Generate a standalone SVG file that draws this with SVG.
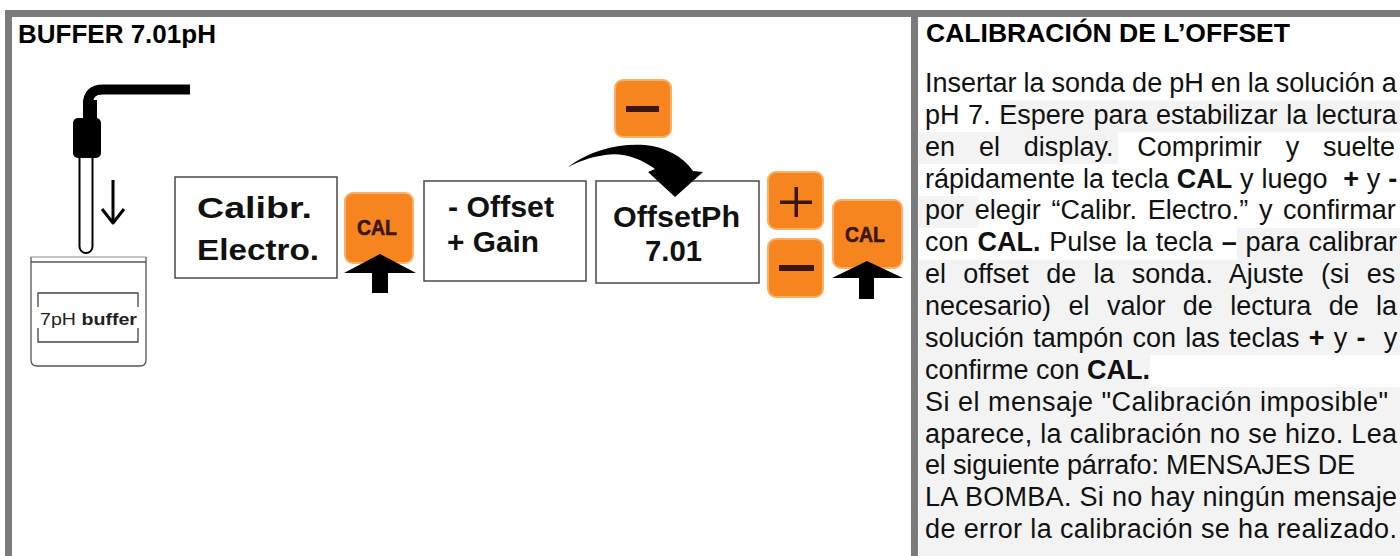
<svg xmlns="http://www.w3.org/2000/svg" width="1400" height="556" viewBox="0 0 1400 556">
  <style>
    .frame { fill: #7b7b7b; }
    .title { font-family: "Liberation Sans", Arial, sans-serif; font-weight: bold; font-size: 26px; fill: #000; }
    .body { font-family: "Liberation Sans", Arial, sans-serif; font-size: 27px; fill: #111; }
    .b { font-weight: bold; }
    .band { fill: #f3f3f3; }
    .box { fill: #fff; stroke: #4a4a4a; stroke-width: 1.5; }
    .boxtxt { font-family: "Liberation Sans", Arial, sans-serif; font-weight: bold; font-size: 30px; fill: #111; }
    .key { fill: #f6851f; stroke: #f9b066; stroke-width: 2; }
    .keytxt { font-family: "Liberation Sans", Arial, sans-serif; font-weight: bold; font-size: 22px; fill: #3b1610; text-anchor: middle; stroke: #3b1610; stroke-width: 0.6; }
    .sym { fill: #3b1610; }
    .press { fill: #000; }
  </style>

  <!-- white page -->
  <rect x="0" y="0" width="1400" height="556" fill="#fff"/>

  <!-- panel frame -->
  <g id="frame">
    <rect class="frame" x="5" y="10" width="1395" height="7"/>
    <rect class="frame" x="5" y="10" width="7" height="546"/>
    <rect class="frame" x="911" y="10" width="7" height="546"/>
  </g>

  <!-- left panel heading -->
  <text class="title" x="18" y="43">BUFFER 7.01pH</text>

  <!-- pH probe -->
  <g id="probe">
    <path d="M190,89.5 H103 Q88,89.5 88,104 V112" fill="none" stroke="#000" stroke-width="10"/>
    <rect x="83" y="100" width="14" height="22" fill="#000"/>
    <rect x="73" y="118" width="28" height="40" rx="5" fill="#000"/>
    <path d="M79.5,158 V246.5 A6.5,6.5 0 0 0 92.5,246.5 V158" fill="#fff" stroke="#000" stroke-width="2"/>
  </g>

  <!-- buffer beaker -->
  <g id="beaker">
    <path d="M31,257 V360 Q31,366 37,366 H140 Q146,366 146,360 V257" fill="none" stroke="#555" stroke-width="1.3"/>
    <line x1="31" y1="257" x2="146" y2="257" stroke="#888" stroke-width="1"/>
    <line x1="31" y1="262" x2="146" y2="262" stroke="#555" stroke-width="1.5"/>
    <path d="M38,307 V293 H138 V307 M38,328 V342 H138 V328" fill="none" stroke="#444" stroke-width="1.3"/>
    <text x="40" y="325" font-family="'Liberation Sans', Arial, sans-serif" font-size="17" fill="#222" textLength="97" lengthAdjust="spacingAndGlyphs">7pH <tspan font-weight="bold">buffer</tspan></text>
  </g>

  <!-- display: Calibr. Electro. -->
  <g id="display-calibr">
    <rect class="box" x="175" y="177" width="162" height="101"/>
    <text class="boxtxt" x="197" y="218" textLength="115" lengthAdjust="spacingAndGlyphs">Calibr.</text>
    <text class="boxtxt" x="197" y="260" textLength="122" lengthAdjust="spacingAndGlyphs">Electro.</text>
  </g>

  <!-- CAL key -->
  <g id="key-cal-1">
    <rect class="key" x="345" y="193" width="68" height="70" rx="8"/>
    <text class="keytxt" x="377" y="235" textLength="40" lengthAdjust="spacingAndGlyphs">CAL</text>
  </g>

  <!-- display: - Offset + Gain -->
  <g id="display-menu">
    <rect class="box" x="424" y="181" width="162" height="100"/>
    <text class="boxtxt" x="448" y="217" textLength="106" lengthAdjust="spacingAndGlyphs">- Offset</text>
    <text class="boxtxt" x="447" y="252" textLength="92" lengthAdjust="spacingAndGlyphs">+ Gain</text>
  </g>

  <!-- minus key above the menu -->
  <g id="key-minus-top">
    <rect class="key" x="615" y="80" width="56" height="57" rx="8"/>
    <rect class="sym" x="626" y="106" width="33" height="6"/>
  </g>

  <!-- display: OffsetPh 7.01 -->
  <g id="display-offset">
    <rect class="box" x="596" y="181" width="163" height="102"/>
    <text class="boxtxt" x="613" y="227" textLength="127" lengthAdjust="spacingAndGlyphs">OffsetPh</text>
    <text class="boxtxt" x="645" y="261" textLength="57" lengthAdjust="spacingAndGlyphs">7.01</text>
  </g>

  <!-- plus / minus keys -->
  <g id="key-plus">
    <rect class="key" x="768" y="172" width="55" height="57" rx="8"/>
    <rect class="sym" x="780" y="200.5" width="32" height="3.5"/>
    <rect class="sym" x="794.5" y="187" width="3.5" height="30"/>
  </g>
  <g id="key-minus">
    <rect class="key" x="768" y="239" width="55" height="58" rx="8"/>
    <rect class="sym" x="779" y="265" width="35" height="6"/>
  </g>

  <!-- CAL key (confirm) -->
  <g id="key-cal-2">
    <rect class="key" x="833" y="200" width="69" height="68" rx="8"/>
    <text class="keytxt" x="865" y="242" textLength="40" lengthAdjust="spacingAndGlyphs">CAL</text>
  </g>

  <!-- arrows -->
  <g id="connectors">
    <!-- probe goes down into the beaker -->
    <line x1="113" y1="180" x2="113" y2="222" stroke="#000" stroke-width="3"/>
    <polyline points="102,209 113,223 124,209" fill="none" stroke="#000" stroke-width="3" stroke-linejoin="round"/>
    <!-- key presses -->
    <path class="press" d="M380,254 L416,273 H388 V293 H372 V273 H344 Z"/>
    <path class="press" d="M867,261 L903,278 H874 V299 H859 V278 H832 Z"/>
    <!-- minus key leads to offset display -->
    <path class="press" d="M568,167 C590,150 620,143 645,145 C665,147 683,156 693,171 L703,172 L675,197 L648,172 L655,169 C640,158 622,152 605,155 C590,157 578,162 568,167 Z"/>
  </g>

  <!-- right panel -->
  <g id="instructions">
    <text class="title" x="926" y="42" textLength="364" lengthAdjust="spacingAndGlyphs">CALIBRACIÓN DE L’OFFSET</text>

    <!-- shaded runs behind the text -->
    <rect class="band" x="1000" y="100.4" width="400" height="31.9"/>
    <rect class="band" x="919" y="132.2" width="199" height="31.9"/>
    <rect class="band" x="919" y="195.9" width="59" height="31.9"/>
    <rect class="band" x="1237" y="227.8" width="163" height="31.9"/>
    <rect class="band" x="919" y="259.7" width="481" height="95.6"/>
    <rect class="band" x="919" y="355.2" width="231" height="31.9"/>
    <rect class="band" x="919" y="387.1" width="481" height="168.9"/>

    <text class="body" x="925" y="92" word-spacing="-0.5">Insertar la sonda de pH en la solución a</text>
    <text class="body" x="925" y="123.9" word-spacing="1.1">pH 7. Espere para estabilizar la lectura</text>
    <text class="body" x="925" y="155.7" word-spacing="16.4">en el display. Comprimir y suelte</text>
    <text class="body" x="925" y="187.6" word-spacing="0.35" xml:space="preserve">rápidamente la tecla <tspan class="b">CAL</tspan> y luego  <tspan class="b">+</tspan> y <tspan class="b">-</tspan></text>
    <text class="body" x="925" y="219.4" word-spacing="3.2">por elegir “Calibr. Electro.” y confirmar</text>
    <text class="body" x="925" y="251.3" word-spacing="1.4">con <tspan class="b">CAL.</tspan> Pulse la tecla <tspan class="b">–</tspan> para calibrar</text>
    <text class="body" x="925" y="283.2" word-spacing="9.8">el offset de la sonda. Ajuste (si es</text>
    <text class="body" x="925" y="315" word-spacing="9.9">necesario) el valor de lectura de la</text>
    <text class="body" x="925" y="346.9" word-spacing="1.7" xml:space="preserve">solución tampón con las teclas <tspan class="b">+</tspan> y <tspan class="b">-</tspan>  y</text>
    <text class="body" x="925" y="378.7">confirme con <tspan class="b">CAL.</tspan></text>
    <text class="body" x="925" y="410.6" textLength="463" lengthAdjust="spacing">Si el mensaje "Calibración imposible"</text>
    <text class="body" x="925" y="442.5" textLength="472" lengthAdjust="spacing">aparece, la calibración no se hizo. Lea</text>
    <text class="body" x="925" y="474.3" textLength="430" lengthAdjust="spacing">el siguiente párrafo: MENSAJES DE</text>
    <text class="body" x="925" y="506.2" textLength="472" lengthAdjust="spacing">LA BOMBA. Si no hay ningún mensaje</text>
    <text class="body" x="925" y="538" textLength="472" lengthAdjust="spacing">de error la calibración se ha realizado.</text>
  </g>
</svg>
